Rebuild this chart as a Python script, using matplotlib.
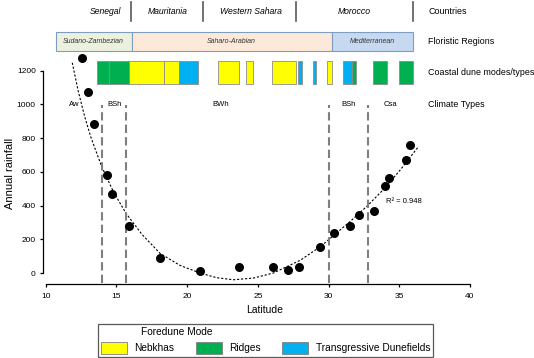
import numpy as np
import matplotlib
matplotlib.use('Agg')
import matplotlib.pyplot as plt
from matplotlib.patches import Patch

plt.rcParams['font.family'] = ['Liberation Sans', 'DejaVu Sans']

# rainfall points
latitude = [12.55, 12.97, 13.42, 14.36, 14.71, 15.89, 18.08, 20.91, 23.69, 26.10, 27.11,
            27.93, 29.42, 30.41, 31.52, 32.18, 33.24, 33.97, 34.26, 35.46, 35.74]
rainfall = [1277, 1072, 886, 581, 467, 279, 87, 12, 37, 36, 18,
            36, 152, 239, 279, 344, 368, 518, 565, 670, 761]

# polynomial trendline
trend_lat = [11.88, 12.3, 12.75, 13.2, 13.96, 14.8, 15.68, 16.8, 18.08, 19.5, 20.91, 22.1,
             23.27, 24.7, 26.1, 27.99, 29.42, 30.04, 31.52, 32.77, 33.88, 35.06, 35.48, 36.35]
trend_rain = [1247, 1079, 930, 804, 631, 480, 354, 230, 117, 45, 0, -28,
              -40, -30, 0, 75, 156, 200, 305, 400, 495, 610, 655, 749]

# climate boundaries and labels
climate_bounds = [14.0, 15.7, 30.05, 32.8]
climate_names = ['Aw', 'BSh', 'BWh', 'BSh', 'Csa']
climate_pos = [12.0, 14.85, 22.4, 31.4, 34.4]

# countries
country_names = ['Senegal', 'Mauritania', 'Western Sahara', 'Morocco']
country_pos = [14.24, 18.65, 24.52, 31.8]
country_bounds = [16.04, 21.15, 27.67, 35.95]

# floristic regions
flor_names = ['Sudano-Zambezian', 'Saharo-Arabian', 'Mediterranean']
flor_start = [10.71, 16.08, 30.23]
flor_end = [16.08, 30.23, 35.95]
flor_colors = ['#ebf1de', '#fde9d9', '#c6d9f1']

# coastal dune segments
dune_start = [13.65, 14.50, 15.87, 18.35, 19.43, 22.21, 24.19, 25.98, 27.86, 28.88,
              29.92, 31.05, 31.68, 33.17, 35.01]
dune_end = [14.50, 15.87, 18.35, 19.43, 20.79, 23.69, 24.64, 27.68, 28.10, 29.12,
            30.23, 31.68, 31.94, 34.12, 36.00]
dune_mode = ['Ridges', 'Ridges', 'Nebkhas', 'Nebkhas', 'Transgressive Dunefields',
             'Nebkhas', 'Nebkhas', 'Nebkhas', 'Transgressive Dunefields',
             'Transgressive Dunefields', 'Nebkhas', 'Transgressive Dunefields',
             'Ridges', 'Ridges', 'Ridges']
mode_colors = {'Nebkhas': '#ffff00', 'Ridges': '#00b050',
               'Transgressive Dunefields': '#00b0f0'}

fig = plt.figure(figsize=(5.34, 3.58), dpi=100)
ax = fig.add_axes([0, 0, 1, 1])
ax.set_xlim(6.77, 44.53)
ax.set_ylim(-504, 1619)
ax.patch.set_alpha(0)

# scatter + trend
ax.scatter(latitude, rainfall, s=30, color='black', zorder=5)
ax.plot(trend_lat, trend_rain, color='black', lw=0.8, linestyle=(0, (2, 1.6)))
ax.text(34.05, 427, 'R² = 0.948', fontsize=5.5, va='center')

# climate boundaries
for b in climate_bounds:
    ax.plot([b, b], [-60, 995], color='#7f7f7f', lw=1.5, linestyle=(0, (4, 2)))
for name, p in zip(climate_names, climate_pos):
    ax.text(p, 1002, name, fontsize=5.5, ha='center', va='center')

# countries
for name, p in zip(country_names, country_pos):
    ax.text(p, 1548, name, fontsize=6.2, style='italic', ha='center', va='center')
for b in country_bounds:
    ax.plot([b, b], [1495, 1607], color='#595959', lw=1.2, clip_on=False)

# floristic regions
flor_w = np.array(flor_end) - np.array(flor_start)
ax.bar(flor_start, 1428 - 1317, width=flor_w, bottom=1317, align='edge',
       color=flor_colors, edgecolor='#7f9dbf', lw=0.8)
for name, s, e in zip(flor_names, flor_start, flor_end):
    ax.text((s + e) / 2, 1372, name, fontsize=5, style='italic',
            ha='center', va='center', color='#333333')

# coastal dune modes
dune_w = np.array(dune_end) - np.array(dune_start)
ax.bar(dune_start, 1256 - 1120, width=dune_w, bottom=1120, align='edge',
       color=[mode_colors[m] for m in dune_mode], edgecolor='#8c8c8c', lw=0.6)

# row labels on the right
for txt, y in zip(['Countries', 'Floristic Regions', 'Coastal dune modes/types', 'Climate Types'],
                  [1548, 1372, 1188, 1002]):
    ax.text(37.05, y, txt, fontsize=6.4, va='center', ha='left')

# axes styling
for s in ['top', 'right']:
    ax.spines[s].set_visible(False)
ax.spines['left'].set_position(('data', 9.84))
ax.spines['left'].set_bounds(0, 1200)
ax.spines['bottom'].set_position(('data', -65))
ax.spines['bottom'].set_bounds(10, 40)
ax.spines['left'].set_linewidth(0.9)
ax.spines['bottom'].set_linewidth(0.9)
ax.set_xticks(range(10, 41, 5))
ax.set_yticks(range(0, 1201, 200))
ax.tick_params(axis='both', labelsize=6, length=2.5, width=0.9)
ax.tick_params(axis='y', pad=3)
ax.tick_params(axis='x', pad=4)

ax.text(7.45, 590, 'Annual rainfall', rotation=90, fontsize=8, ha='center', va='center')
ax.text(25.45, -218, 'Latitude', fontsize=7.5, ha='center', va='center')

# legend
handles = [Patch(facecolor=mode_colors[m], edgecolor='#7f7f7f', lw=0.6)
           for m in ['Nebkhas', 'Ridges', 'Transgressive Dunefields']]
leg = fig.legend(handles, ['Nebkhas', 'Ridges', 'Transgressive Dunefields'],
                 title=' ', ncol=3, loc='lower left',
                 bbox_to_anchor=(0.183, 0.003, 0.628, 0.094), mode='expand',
                 borderaxespad=0, fontsize=7.3, title_fontsize=7.3,
                 handlelength=2.6, handleheight=1.4, handletextpad=0.7,
                 borderpad=0.3, alignment='left', fancybox=False, framealpha=1)
leg.get_frame().set_edgecolor('#595959')
leg.get_frame().set_linewidth(0.9)
fig.text(141 / 534, 1 - 332 / 358, 'Foredune Mode', fontsize=7.3, va='center', ha='left',
         zorder=10)

fig.savefig('out.png', dpi=100)
